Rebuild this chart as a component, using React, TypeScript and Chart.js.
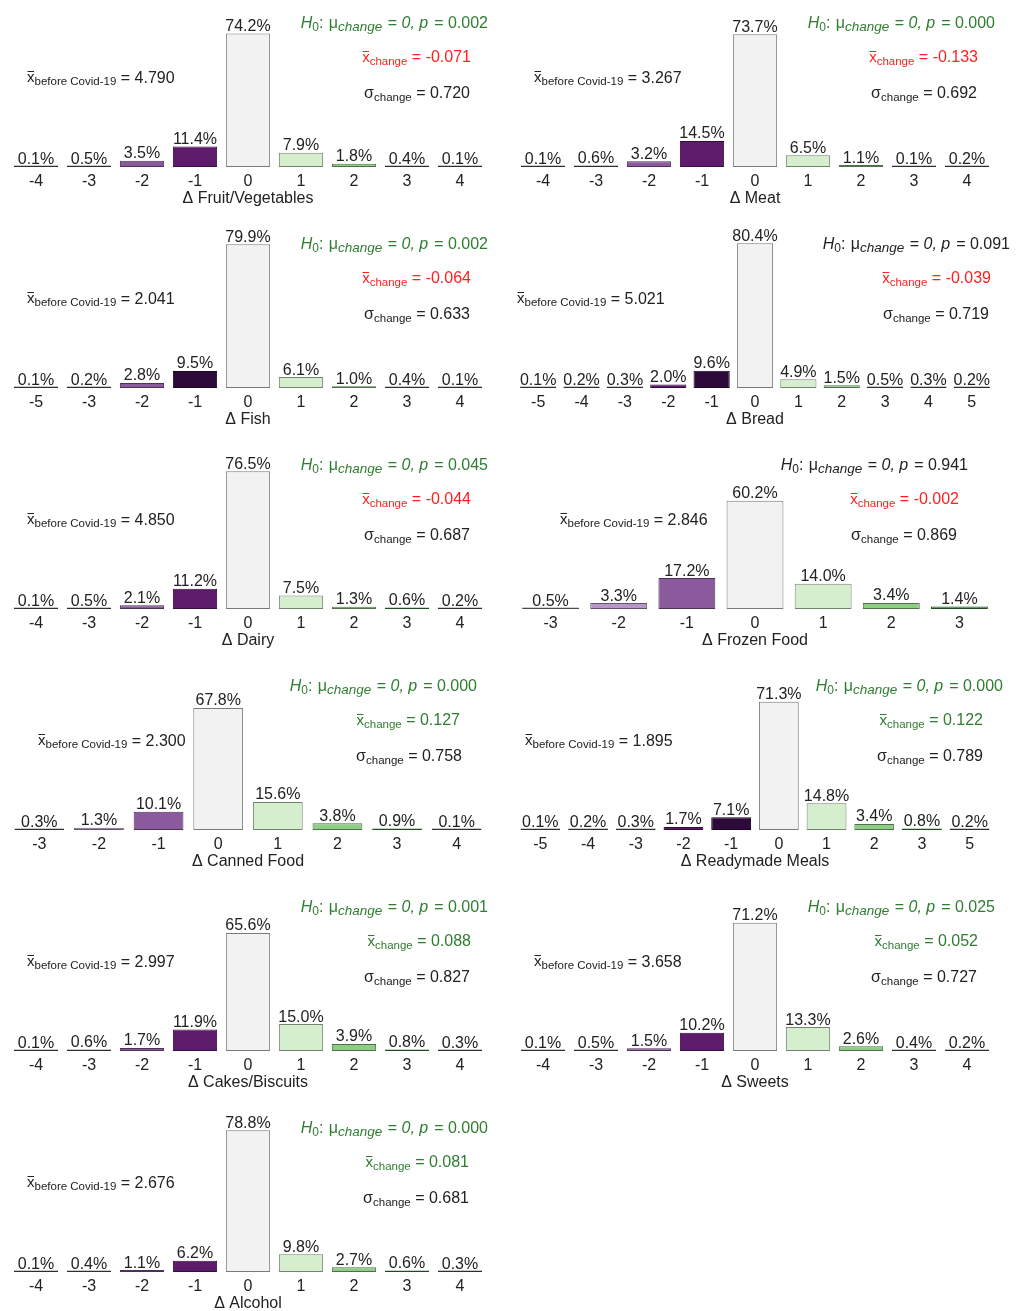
import React, { useEffect, useRef } from 'react';
import { Chart, registerables } from 'chart.js';

Chart.register(...registerables);

const FONT = '"Liberation Sans", Arial, Helvetica, sans-serif';

// ---------- DATA ----------
const panelNames = [
  'Fruit/Vegetables', 'Meat', 'Fish', 'Bread', 'Dairy', 'Frozen Food',
  'Canned Food', 'Readymade Meals', 'Cakes/Biscuits', 'Sweets', 'Alcohol',
];

const fruitCats = ['-4', '-3', '-2', '-1', '0', '1', '2', '3', '4'];
const fruitVals = [0.1, 0.5, 3.5, 11.4, 74.2, 7.9, 1.8, 0.4, 0.1];
const meatCats = ['-4', '-3', '-2', '-1', '0', '1', '2', '3', '4'];
const meatVals = [0.1, 0.6, 3.2, 14.5, 73.7, 6.5, 1.1, 0.1, 0.2];
const fishCats = ['-5', '-3', '-2', '-1', '0', '1', '2', '3', '4'];
const fishVals = [0.1, 0.2, 2.8, 9.5, 79.9, 6.1, 1.0, 0.4, 0.1];
const breadCats = ['-5', '-4', '-3', '-2', '-1', '0', '1', '2', '3', '4', '5'];
const breadVals = [0.1, 0.2, 0.3, 2.0, 9.6, 80.4, 4.9, 1.5, 0.5, 0.3, 0.2];
const dairyCats = ['-4', '-3', '-2', '-1', '0', '1', '2', '3', '4'];
const dairyVals = [0.1, 0.5, 2.1, 11.2, 76.5, 7.5, 1.3, 0.6, 0.2];
const frozenCats = ['-3', '-2', '-1', '0', '1', '2', '3'];
const frozenVals = [0.5, 3.3, 17.2, 60.2, 14.0, 3.4, 1.4];
const cannedCats = ['-3', '-2', '-1', '0', '1', '2', '3', '4'];
const cannedVals = [0.3, 1.3, 10.1, 67.8, 15.6, 3.8, 0.9, 0.1];
const readyCats = ['-5', '-4', '-3', '-2', '-1', '0', '1', '2', '3', '5'];
const readyVals = [0.1, 0.2, 0.3, 1.7, 7.1, 71.3, 14.8, 3.4, 0.8, 0.2];
const cakesCats = ['-4', '-3', '-2', '-1', '0', '1', '2', '3', '4'];
const cakesVals = [0.1, 0.6, 1.7, 11.9, 65.6, 15.0, 3.9, 0.8, 0.3];
const sweetsCats = ['-4', '-3', '-2', '-1', '0', '1', '2', '3', '4'];
const sweetsVals = [0.1, 0.5, 1.5, 10.2, 71.2, 13.3, 2.6, 0.4, 0.2];
const alcoholCats = ['-4', '-3', '-2', '-1', '0', '1', '2', '3', '4'];
const alcoholVals = [0.1, 0.4, 1.1, 6.2, 78.8, 9.8, 2.7, 0.6, 0.3];

const pValues = [0.002, 0.0, 0.002, 0.091, 0.045, 0.941, 0.0, 0.0, 0.001, 0.025, 0.0];
const meanChange = [-0.071, -0.133, -0.064, -0.039, -0.044, -0.002, 0.127, 0.122, 0.088, 0.052, 0.081];
const sdChange = [0.72, 0.692, 0.633, 0.719, 0.687, 0.869, 0.758, 0.789, 0.827, 0.727, 0.681];
const meanBefore = [4.79, 3.267, 2.041, 5.021, 4.85, 2.846, 2.3, 1.895, 2.997, 3.658, 2.676];

const allCats = [fruitCats, meatCats, fishCats, breadCats, dairyCats, frozenCats, cannedCats, readyCats, cakesCats, sweetsCats, alcoholCats];
const allVals = [fruitVals, meatVals, fishVals, breadVals, dairyVals, frozenVals, cannedVals, readyVals, cakesVals, sweetsVals, alcoholVals];

// ---------- STYLES ----------
const P4 = '#2e0a3a';
const P3 = '#5e1a6b';
const P2 = '#8a5a9c';
const P1 = '#b996c8';
const NEU = '#f2f2f2';
const G1 = '#d5eecd';
const G2 = '#8fcd87';
const G3 = '#3b8b41';
const K = '#555555';
const KG = '#888888';

const barColors = [
  [K, K, P2, P3, NEU, G1, G2, K, K],
  [K, K, P2, P3, NEU, G1, G2, K, K],
  [K, K, P2, P4, NEU, G1, G2, K, K],
  [K, K, K, P3, P4, NEU, G1, G2, K, K, K],
  [K, K, P2, P3, NEU, G1, G2, G3, K],
  [KG, P1, P2, NEU, G1, G2, G3],
  [K, P1, P2, NEU, G1, G2, G3, K],
  [K, K, K, P3, P4, NEU, G1, G2, G3, K],
  [K, K, P2, P3, NEU, G1, G2, G3, K],
  [K, K, P2, P3, NEU, G1, G2, K, K],
  [K, K, P2, P3, NEU, G1, G2, G3, K],
];

// annotation anchors (px, relative to panel): H0 right, mean-change right, sd right, mean-before left
const annoX = [
  [488, 471, 470, 27],
  [485, 468, 467, 24],
  [488, 471, 470, 27],
  [500, 481, 479, 7],
  [488, 471, 470, 27],
  [458, 449, 447, 50],
  [477, 460, 462, 38],
  [493, 473, 473, 15],
  [488, 471, 470, 27],
  [485, 468, 467, 24],
  [488, 469, 469, 27],
];
const annoY = [27.7, 62.3, 97.7, 82.7];

const GREEN = '#2f7d31';
const RED = '#ff2020';
const TXT = '#222222';
const PANEL_W = 510;
const PANEL_H = 221;

function darken(hex: string, f: number) {
  const n = parseInt(hex.slice(1), 16);
  const r = Math.round(((n >> 16) & 255) * f);
  const g = Math.round(((n >> 8) & 255) * f);
  const b = Math.round((n & 255) * f);
  return `rgb(${r},${g},${b})`;
}

type Seg = { t: string; it?: boolean; sub?: boolean; size?: number; over?: boolean; dy?: number; pad?: number };

function drawRich(ctx: CanvasRenderingContext2D, segs: Seg[], x: number, y: number, align: 'left' | 'right', color: string) {
  const fontOf = (s: Seg) => `${s.it ? 'italic ' : ''}${s.size ?? (s.sub ? 11.5 : 16)}px ${FONT}`;
  let total = 0;
  const ws = segs.map((s) => {
    ctx.font = fontOf(s);
    const w = ctx.measureText(s.t).width + (s.pad ?? 0);
    total += w;
    return w;
  });
  let cx = align === 'right' ? x - total : x;
  ctx.fillStyle = color;
  ctx.strokeStyle = color;
  ctx.textAlign = 'left';
  ctx.textBaseline = 'alphabetic';
  segs.forEach((s, i) => {
    ctx.font = fontOf(s);
    const by = y + (s.sub ? 3 : 0) + (s.dy ?? 0);
    ctx.fillText(s.t, cx, by);
    if (s.over) {
      ctx.lineWidth = 1;
      const ly = Math.round(by - 11) + 0.5;
      ctx.beginPath();
      ctx.moveTo(cx + 0.5, ly);
      ctx.lineTo(cx + ws[i] - 0.5, ly);
      ctx.stroke();
    }
    cx += ws[i];
  });
}

function Panel({ idx }: { idx: number }) {
  const ref = useRef<HTMLCanvasElement>(null);
  useEffect(() => {
    const cats = allCats[idx];
    const vals = allVals[idx];
    const col = idx % 2;
    const fills = barColors[idx];
    const borders = fills.map((c) => (c === NEU ? '#7a7a7a' : darken(c, 0.55)));

    const labelPlugin = {
      id: 'pctLabels',
      afterDatasetsDraw(chart: any) {
        const ctx = chart.ctx as CanvasRenderingContext2D;
        const meta = chart.getDatasetMeta(0);
        const ys = chart.scales.y;
        ctx.save();
        ctx.font = `16px ${FONT}`;
        ctx.fillStyle = TXT;
        ctx.textAlign = 'center';
        ctx.textBaseline = 'alphabetic';
        meta.data.forEach((el: any, i: number) => {
          const v = vals[i];
          ctx.fillText(v.toFixed(1) + '%', el.x, ys.getPixelForValue(v) - 2.5);
        });
        ctx.restore();
      },
      afterDraw(chart: any) {
        const ctx = chart.ctx as CanvasRenderingContext2D;
        const [hx, mx, sx, bx] = annoX[idx];
        const p = pValues[idx];
        const m = meanChange[idx];
        ctx.save();
        drawRich(ctx, [
          { t: 'H', it: true },
          { t: '0', sub: true, size: 12 },
          { t: ': ', pad: 1 },
          { t: 'μ' },
          { t: 'change', it: true, sub: true, size: 13.5, pad: 1 },
          { t: ' = ' },
          { t: '0, p', it: true, pad: 1.5 },
          { t: ' = ' + p.toFixed(3) },
        ], hx, annoY[0], 'right', p < 0.05 ? GREEN : TXT);
        drawRich(ctx, [
          { t: 'x', over: true, size: 15 },
          { t: 'change', sub: true },
          { t: ' = ' + m.toFixed(3) },
        ], mx, annoY[1], 'right', m < 0 ? RED : GREEN);
        drawRich(ctx, [
          { t: 'σ' },
          { t: 'change', sub: true },
          { t: ' = ' + sdChange[idx].toFixed(3) },
        ], sx, annoY[2], 'right', TXT);
        drawRich(ctx, [
          { t: 'x', over: true, size: 15, dy: -1 },
          { t: 'before Covid-19', sub: true, dy: -0.5 },
          { t: ' = ' + meanBefore[idx].toFixed(3) },
        ], bx, annoY[3], 'left', TXT);
        ctx.restore();
      },
    };

    const chart = new Chart(ref.current as HTMLCanvasElement, {
      type: 'bar',
      data: {
        labels: cats,
        datasets: [{
          data: vals,
          backgroundColor: fills,
          borderColor: borders,
          borderWidth: 1,
          borderSkipped: false,
          minBarLength: 1.5,
          barPercentage: 0.835,
          categoryPercentage: 1,
        }],
      },
      options: {
        responsive: false,
        animation: false,
        devicePixelRatio: 1,
        layout: {
          padding: {
            left: col === 0 ? 9.5 : 6.5,
            right: col === 0 ? 23.5 : 26.5,
            top: 5,
            bottom: PANEL_H - 208,
          },
        },
        plugins: { legend: { display: false }, tooltip: { enabled: false }, title: { display: false } },
        scales: {
          x: {
            type: 'category',
            offset: true,
            grid: { display: false, drawTicks: false },
            border: { display: false },
            ticks: {
              font: { family: FONT, size: 16 },
              color: TXT,
              padding: 4.5,
              autoSkip: false,
              maxRotation: 0,
              minRotation: 0,
            },
            title: {
              display: true,
              text: 'Δ ' + panelNames[idx],
              font: { family: FONT, size: 16 },
              color: TXT,
              padding: 0,
            },
            afterFit: (s: any) => { s.height = 41; },
          },
          y: { display: false, min: 0, max: 90 },
        },
      },
      plugins: [labelPlugin],
    } as any);
    return () => chart.destroy();
  }, [idx]);

  const col = idx % 2;
  const row = Math.floor(idx / 2);
  return (
    <div style={{ position: 'absolute', left: col * PANEL_W, top: row * PANEL_H, width: PANEL_W, height: PANEL_H }}>
      <canvas ref={ref} width={PANEL_W} height={PANEL_H} style={{ display: 'block', width: PANEL_W, height: PANEL_H }} />
    </div>
  );
}

export default function App() {
  return (
    <div style={{ position: 'absolute', left: 0, top: 0, width: 1021, height: 1311, overflow: 'hidden', background: '#fff' }}>
      {panelNames.map((_, i) => <Panel key={i} idx={i} />)}
    </div>
  );
}
